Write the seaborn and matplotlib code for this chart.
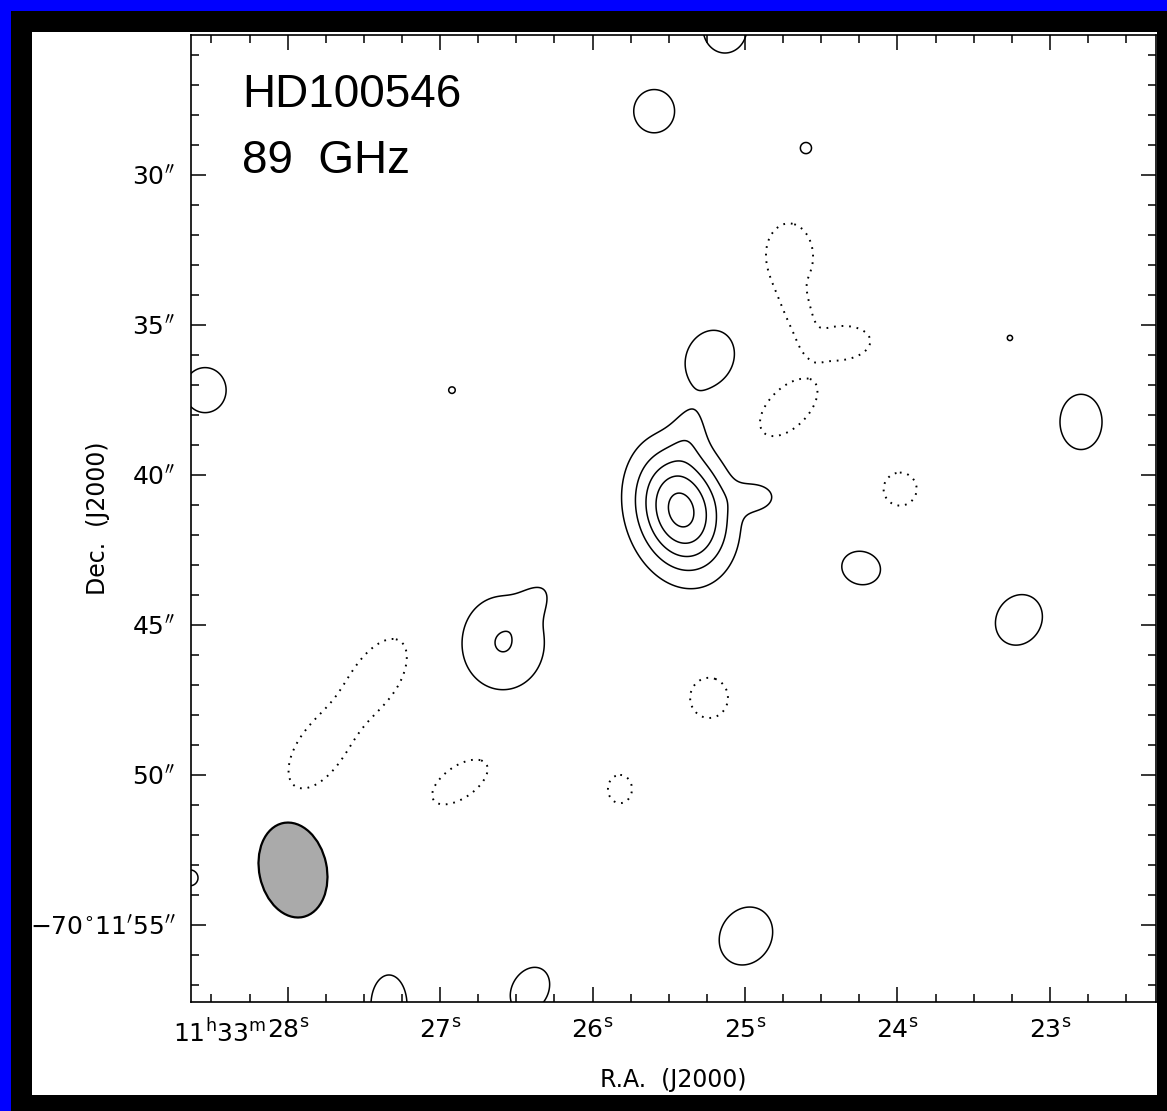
import numpy as np
import matplotlib
matplotlib.use("Agg")
import matplotlib.pyplot as plt
from matplotlib.patches import Ellipse, Rectangle
from matplotlib.ticker import FixedLocator
import seaborn as sns

sns.set_style("white")
plt.rcParams["font.family"] = ["DejaVu Sans"]
plt.rcParams["mathtext.fontset"] = "dejavusans"
for key in ("text.color", "axes.labelcolor", "xtick.color", "ytick.color",
            "axes.edgecolor"):
    plt.rcParams[key] = "black"

W, H = 1167, 1111

# Plate scale: arcsec per second of RA at the field declination.
DEC0 = -(70 + 11 / 60 + 40 / 3600)
RA_SEC_ARCSEC = 15 * np.cos(np.radians(DEC0))
RA_ZERO = 25.0  # x = 0 at 11h33m25s; x is the eastward offset in arcsec

# Gaussian components of the 89 GHz map (peaks in units of the rms noise).
# x: eastward offset [arcsec], y: Dec seconds below -70d11m, sizes in arcsec,
# pa: position angle of the major axis (north through east) in degrees.
comp_x = [2.13, -0.43, 1.83,
          8.07, 7.0,
          0.67, 3.03, -2.03, 1.17, 9.77, 18.0, -11.2, -8.83, -3.87, -9.13,
          -0.03, 11.87, 7.17, 18.5,
          -1.5, -1.77, -3.17, -1.45, 12.23, 14.23, 9.5, -5.17, 1.2, 4.17]
comp_y = [41.17, 40.73, 38.43,
          45.6, 44.17,
          25.1, 27.87, 29.1, 36.1, 37.17, 37.17, 38.23, 35.43, 43.1, 44.83,
          55.37, 57.67, 57.17, 53.43,
          32.67, 34.57, 35.6, 37.75, 46.67, 49.23, 50.23, 40.47, 47.43, 50.47]
comp_peak = [10.8, 2.6, 1.6,
             4.1, 1.6,
             3.3, 3.3, 2.12, 3.8, 2.05, 3.3, 3.3, 2.04, 3.3, 3.3,
             3.3, 3.3, 3.3, 2.3,
             -4.0, -6.0, -6.0, -6.0, -3.5, -3.5, -3.3, -3.3, -3.3, -3.3]
comp_smaj = [1.45, 0.55, 0.75,
             1.3, 0.6,
             0.83, 0.72, 0.55, 0.84, 0.5, 0.75, 0.92, 0.45, 0.65, 0.87,
             1.0, 1.0, 0.8, 0.5,
             0.9, 0.88, 0.68, 0.8, 1.3, 1.3, 1.07, 0.55, 0.67, 0.47]
comp_smin = [1.05, 0.4, 0.45,
             1.15, 0.35,
             0.73, 0.68, 0.55, 0.69, 0.5, 0.7, 0.7, 0.45, 0.55, 0.75,
             0.85, 0.6, 0.6, 0.5,
             0.65, 0.27, 0.38, 0.44, 0.7, 0.7, 0.53, 0.55, 0.63, 0.4]
comp_pa = [15, 90, -10,
           0, -40,
           0, 0, 0, -25, 0, 0, 0, 0, 75, -30,
           -30, 0, -30, 0,
           4, 20, 95, -45, -34, -34, -55, 0, 0, 0]

pos_levels = [2, 4, 6, 8, 10]
neg_levels = [-2]

# Synthesised beam
beam_x, beam_y = 15.07, 53.17
beam_major, beam_minor, beam_pa = 3.2, 2.25, 12

ra_tick_sec = [28, 27, 26, 25, 24, 23]
ra_tick_labels = [r"$28^{\rm s}$", r"$27^{\rm s}$", r"$26^{\rm s}$",
                  r"$25^{\rm s}$", r"$24^{\rm s}$", r"$23^{\rm s}$"]
ra_label_prefix = r"$11^{\rm h}33^{\rm m}$"
dec_tick_sec = [30, 35, 40, 45, 50, 55]
dec_tick_labels = [r"$30^{\prime\prime}$", r"$35^{\prime\prime}$",
                   r"$40^{\prime\prime}$", r"$45^{\prime\prime}$",
                   r"$50^{\prime\prime}$",
                   r"$-70^{\circ}11^{\prime}55^{\prime\prime}$"]

# ---- evaluate the map on a grid ----
xg = np.arange(-16.0, 21.0, 0.04)
yg = np.arange(23.0, 60.0, 0.04)
X, Y = np.meshgrid(xg, yg)
Z = np.zeros_like(X)
for x0, y0, a, smaj, smin, pa in zip(comp_x, comp_y, comp_peak,
                                     comp_smaj, comp_smin, comp_pa):
    de = X - x0
    dn = -(Y - y0)
    t = np.radians(pa)
    u = de * np.sin(t) + dn * np.cos(t)
    v = de * np.cos(t) - dn * np.sin(t)
    Z += a * np.exp(-0.5 * ((u / smaj) ** 2 + (v / smin) ** 2))

fig = plt.figure(figsize=(W / 100, H / 100), dpi=100)
fig.patch.set_facecolor("#0000ff")
fig.add_artist(Rectangle((11 / W, 0), 1 - 11 / W, 1 - 11 / H,
                         transform=fig.transFigure, facecolor="black",
                         edgecolor="none", zorder=-10))
fig.add_artist(Rectangle((32 / W, 1 - 1095 / H), (1157 - 32) / W,
                         (1095 - 32) / H, transform=fig.transFigure,
                         facecolor="white", edgecolor="none", zorder=-9))

ax = fig.add_axes([191 / W, 1 - 1002 / H, (1156 - 191) / W, (1002 - 35) / H])
ax.set_facecolor("white")

ax.contour(X, Y, Z, levels=pos_levels, colors="black", linewidths=1.1,
           linestyles="solid")
ax.contour(X, Y, Z, levels=neg_levels, colors="black", linewidths=1.4,
           linestyles=[(0, (0.9, 3.0))])

ax.add_patch(Ellipse((beam_x, beam_y), width=beam_minor, height=beam_major,
                     angle=beam_pa, facecolor="#aaaaaa", edgecolor="black",
                     linewidth=1.6, zorder=3))

ax.set_xlim(18.47, -13.7)
ax.set_ylim(57.57, 25.33)

ra_pos = [(s - RA_ZERO) * RA_SEC_ARCSEC for s in ra_tick_sec]
ra_minor = [(s - RA_ZERO) * RA_SEC_ARCSEC for s in np.arange(22.0, 29.01, 0.25)]
ax.xaxis.set_major_locator(FixedLocator(ra_pos))
ax.xaxis.set_minor_locator(FixedLocator(ra_minor))
ax.set_xticklabels(ra_tick_labels)
ax.yaxis.set_major_locator(FixedLocator(dec_tick_sec))
ax.yaxis.set_minor_locator(FixedLocator(list(range(25, 58))))
ax.set_yticklabels(dec_tick_labels)

ax.tick_params(which="both", direction="in", top=True, right=True,
               bottom=True, left=True, color="black", width=1.1)
ax.tick_params(which="major", length=11)
ax.tick_params(which="minor", length=6)
ax.tick_params(axis="x", which="major", pad=12, labelsize=18)
ax.tick_params(axis="y", which="major", pad=11, labelsize=18)
for sp in ax.spines.values():
    sp.set_visible(True)
    sp.set_color("black")
    sp.set_linewidth(1.2)

fig.text(673 / W, 1 - 1080 / H, "R.A.  (J2000)", fontsize=17,
         ha="center", va="center")
fig.text(98 / W, 1 - 518 / H, "Dec.  (J2000)", fontsize=17, rotation=90,
         ha="center", va="center")

fig.text(242 / W, 1 - 107 / H, "HD100546", fontsize=33,
         family="Liberation Sans", va="baseline")
fig.text(242 / W, 1 - 173 / H, "89  GHz", fontsize=33,
         family="Liberation Sans", va="baseline")

# hours/minutes prefix placed in front of the first RA label
fig.canvas.draw()
bb = ax.get_xticklabels()[0].get_window_extent()
fig.text(bb.x0 / W, bb.y1 / H, ra_label_prefix, fontsize=18,
         ha="right", va="top")

fig.savefig("out.png", dpi=100, facecolor=fig.get_facecolor())
